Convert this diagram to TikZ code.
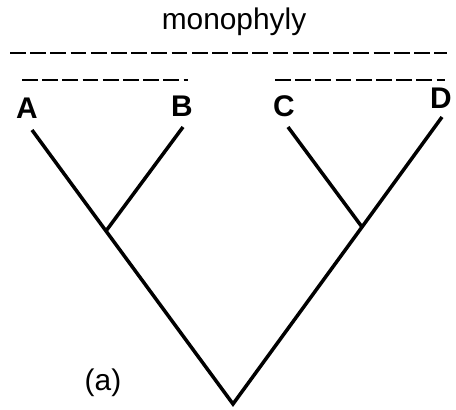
\documentclass[tikz,border=0pt]{standalone}
\usepackage{fontspec}
\setmainfont{Liberation Sans}
\usetikzlibrary{positioning}
\tikzset{
  branch/.style={line width=2pt},
  clade/.style={line width=1.2pt,dash pattern=on 9pt off 2.5pt},
  taxon/.style={font=\fontsize{17}{19}\selectfont\bfseries,inner sep=0pt},
  caption/.style={font=\fontsize{17}{19}\selectfont,inner sep=0pt}
}

\begin{document}
\begin{tikzpicture}[x=0.02cm,y=-0.02cm]
  \useasboundingbox (0,0) rectangle (456,409);
  % tree
  \coordinate (root) at (233,404);
  \coordinate (ab) at (106,231);
  \coordinate (cd) at (362,227);
  \coordinate (tipA) at (32,130);
  \coordinate (tipB) at (183,127);
  \coordinate (tipC) at (288,127);
  \coordinate (tipD) at (442,117);
  \draw[branch] (tipA) -- (ab) -- (root) -- (cd) -- (tipD);
  \draw[branch] (ab) -- (tipB);
  \draw[branch] (cd) -- (tipC);
  % taxa
  \node[taxon] (labA) at (27,108) {A};
  \node[taxon] (labB) at (182,106) {B};
  \node[taxon] (labC) at (284,106) {C};
  \node[taxon] (labD) at (441,98) {D};
  % groups
  \coordinate (allL) at (10,53);
  \coordinate (allR) at (447,53);
  \coordinate (abL) at (22,80);
  \coordinate (abR) at (188,80);
  \coordinate (cdL) at (275,80);
  \coordinate (cdR) at (445,80);
  \draw[clade] (allL) -- (allR);
  \draw[clade] (abL) -- (abR);
  \draw[clade] (cdL) -- (cdR);
  \node[caption] (mono) at (234,22) {monophyly};
  \node[caption] (panel) at (103,383) {(a)};
\end{tikzpicture}
\end{document}
